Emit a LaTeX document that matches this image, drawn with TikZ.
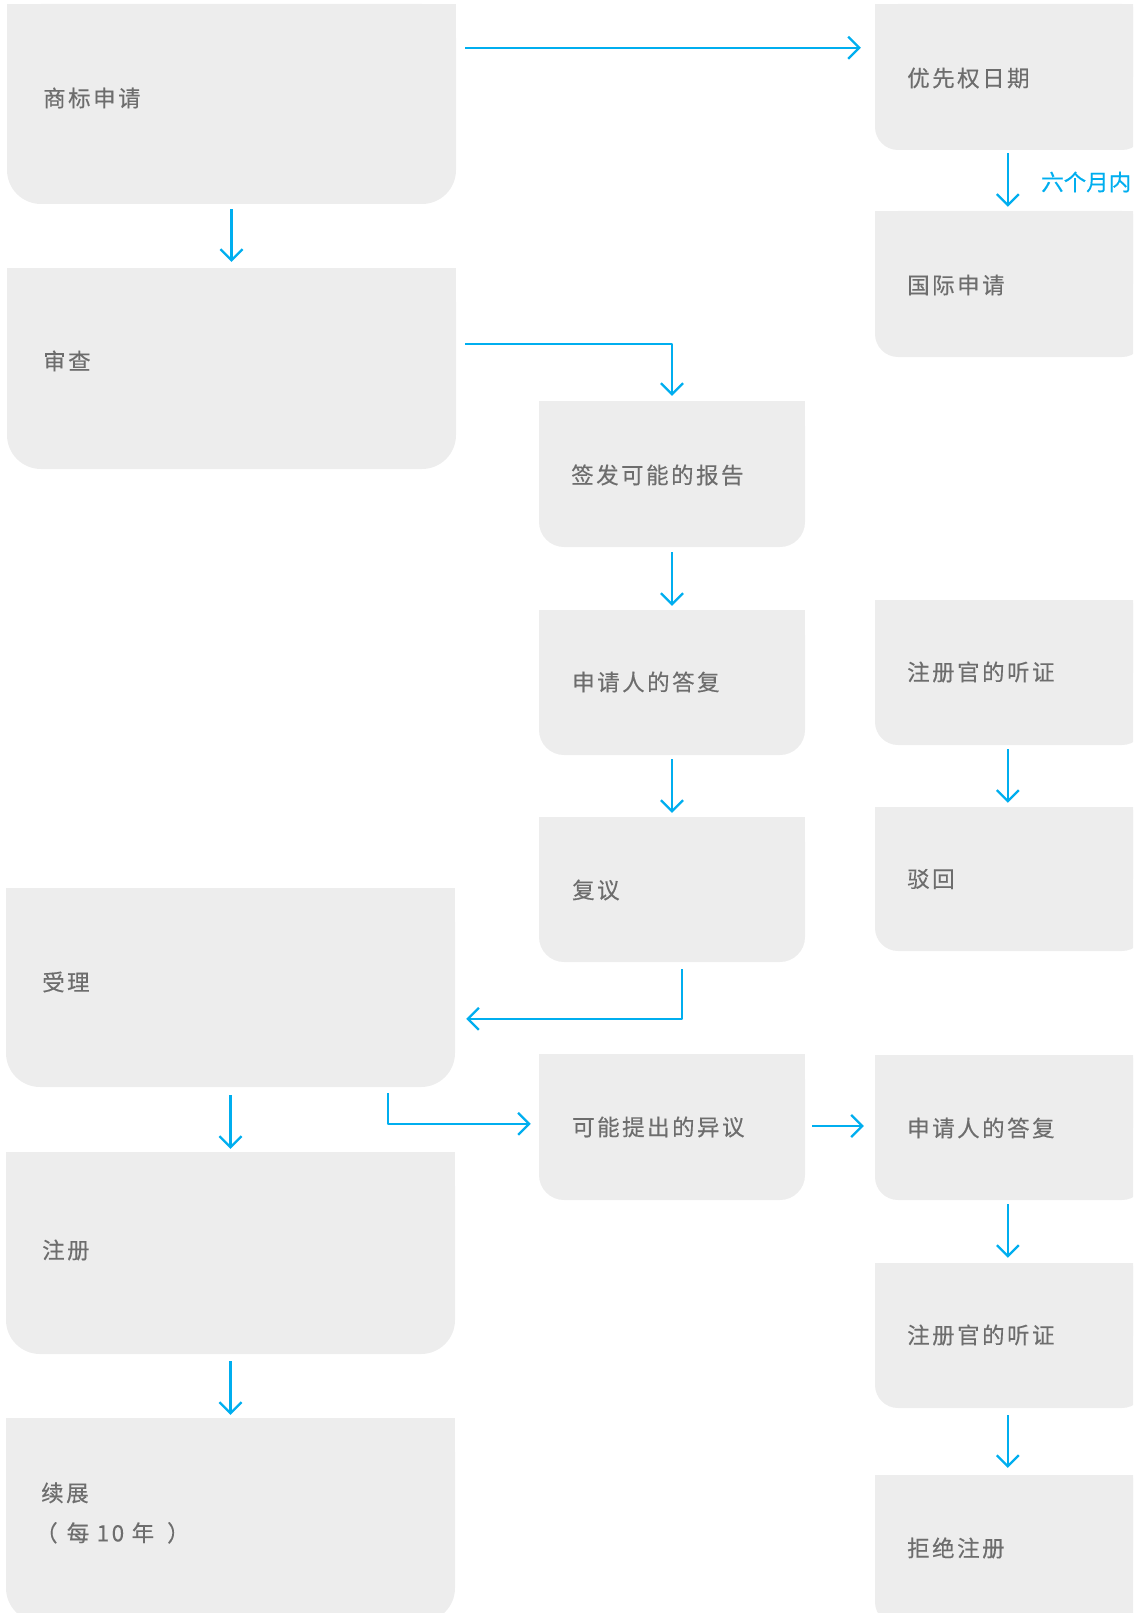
\documentclass[tikz,border=0pt]{standalone}
\usepackage{fontspec}
\setmainfont{Noto Sans CJK SC}[LetterSpace=11,FakeBold=0.35]
\newfontfamily\tightcjk{Noto Sans CJK SC}[FakeBold=0.35]
\usetikzlibrary{arrows.meta,calc,fit}
\definecolor{boxfill}{HTML}{EDEDED}
\definecolor{txtgray}{HTML}{6D6D6D}
\definecolor{flowblue}{HTML}{00AEEF}
% name, x1, y1, x2, y2, radius
\newcommand\flowbox[6]{%
  \fill[boxfill, rounded corners=#6pt] (#2,#3) rectangle (#4,#5);
  \fill[boxfill] (#2,#3) rectangle (#4,{(#3+#5)/2});
  \node[fit={(#2,#3) (#4,#5)}, inner sep=0pt] (#1) {};
}
\tikzset{
  lbl/.style={text=txtgray, font=\fontsize{22.5}{40}\selectfont, inner sep=0pt, anchor=west, align=left},
  bluelbl/.style={text=flowblue, font=\tightcjk\fontsize{22.5}{27}\selectfont, inner sep=0pt, anchor=west},
  arr/.style={draw=flowblue, line width=2.3pt, line join=round, -{Straight Barb[length=11pt,width=22pt]}},
}
\begin{document}
\begin{tikzpicture}[x=1pt,y=-1pt]
\useasboundingbox (0,0) rectangle (1133,1613);
\clip (0,0) rectangle (1133,1613);
% left column
\flowbox{b1}{7}{4}{456}{204}{34}
\flowbox{b2}{7}{268}{456}{469}{34}
\flowbox{b3}{6}{888}{455}{1087}{34}
\flowbox{b4}{6}{1152}{455}{1354}{34}
\flowbox{b5}{6}{1418}{455}{1622}{34}
% middle column
\flowbox{m1}{539}{401}{805}{547}{25}
\flowbox{m2}{539}{610}{805}{755}{25}
\flowbox{m3}{539}{817}{805}{962}{25}
\flowbox{m4}{539}{1054}{805}{1200}{25}
% right column
\flowbox{r1}{875}{4}{1145}{150}{23}
\flowbox{r2}{875}{211}{1145}{357}{23}
\flowbox{r3}{875}{600}{1145}{745}{23}
\flowbox{r4}{875}{807}{1145}{951}{23}
\flowbox{r5}{875}{1055}{1145}{1200}{23}
\flowbox{r6}{875}{1263}{1145}{1408}{23}
\flowbox{r7}{875}{1475}{1145}{1625}{23}
% texts
\node[lbl] (t1) at (43,98) {商标申请};
\node[lbl] (t2) at (43,361) {审查};
\node[lbl] (t3) at (42,982) {受理};
\node[lbl] (t4) at (42,1250) {注册};
\node[lbl] (t5) at (41,1513) {续展\\\hspace*{-6pt}（\hspace{9pt}每 10 年\hspace{13pt}）};
\node[lbl] (tm1) at (571,475) {签发可能的报告};
\node[lbl] (tm2) at (572,682) {申请人的答复};
\node[lbl] (tm3) at (572,890) {复议};
\node[lbl] (tm4) at (572,1127) {可能提出的异议};
\node[lbl] (tr1) at (907,78) {优先权日期};
\node[lbl] (tr2) at (907,285) {国际申请};
\node[lbl] (tr3) at (907,672) {注册官的听证};
\node[lbl] (tr4) at (907,879) {驳回};
\node[lbl] (tr5) at (907,1128) {申请人的答复};
\node[lbl] (tr6) at (907,1335) {注册官的听证};
\node[lbl] (tr7) at (907,1548) {拒绝注册};
% connectors
\draw[arr] ($(b1.north east)+(9,44)$) -- ($(r1.north west)+(-14,44)$);
\draw[arr, shorten <=5pt, shorten >=6pt] (b1) -- (b2);
\draw[arr] ($(r1.south west)+(133,3)$) -- ($(r2.north west)+(133,-4)$);
\node[bluelbl] (sixlbl) at (1041,182) {六个月内};
\draw[arr] ($(b2.north east)+(9,76)$) -| ($(m1.north)+(0,-5)$);
\draw[arr, shorten <=5pt, shorten >=4pt] (m1) -- (m2);
\draw[arr, shorten <=4pt, shorten >=4pt] (m2) -- (m3);
\draw[arr] ($(m3.south)+(10,7)$) |- ($(b3.north east)+(11,131)$);
\draw[arr, shorten <=8pt, shorten >=3pt] (b3) -- (b4);
\draw[arr, shorten <=7pt, shorten >=3pt] (b4) -- (b5);
\draw[arr] ($(b3.south west)+(382,6)$) |- ($(m4.north west)+(-8,70)$);
\draw[arr] ($(m4.east)+(7,-1)$) -- ($(m4.east -| r5.west)+(-11,-1)$);
\draw[arr] ($(r3.south west)+(133,4)$) -- ($(r4.north west)+(133,-4)$);
\draw[arr] ($(r5.south west)+(133,4)$) -- ($(r6.north west)+(133,-5)$);
\draw[arr] ($(r6.south west)+(133,7)$) -- ($(r7.north west)+(133,-7)$);
\end{tikzpicture}
\end{document}
